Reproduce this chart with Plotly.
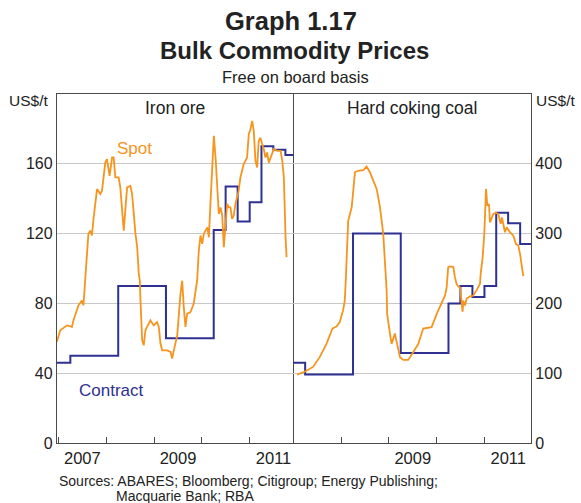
import plotly.graph_objects as go
from plotly.subplots import make_subplots

# ---------------- data ----------------
iron_spot_dates = [
    "2006-12-19", "2007-01-14", "2007-03-06", "2007-04-13", "2007-04-25", "2007-06-02",
    "2007-06-28", "2007-07-10", "2007-07-23", "2007-07-31", "2007-08-17", "2007-08-31",
    "2007-09-13", "2007-09-25", "2007-10-22", "2007-11-16", "2007-11-29", "2007-12-24",
    "2008-01-06", "2008-01-26", "2008-02-14", "2008-02-26", "2008-03-10", "2008-04-04",
    "2008-04-17", "2008-05-13", "2008-05-26", "2008-06-08", "2008-07-03", "2008-07-16",
    "2008-08-11", "2008-08-24", "2008-09-05", "2008-09-13", "2008-09-18", "2008-10-01",
    "2008-10-13", "2008-10-26", "2008-11-20", "2008-12-03", "2008-12-28", "2009-01-23",
    "2009-02-05", "2009-02-18", "2009-03-03", "2009-04-10", "2009-05-06", "2009-05-18",
    "2009-05-31", "2009-06-26", "2009-07-21", "2009-08-03", "2009-08-15", "2009-08-28",
    "2009-09-10", "2009-10-05", "2009-10-30", "2009-11-12", "2009-11-25", "2009-12-08",
    "2009-12-21", "2010-01-03", "2010-01-15", "2010-02-11", "2010-02-23", "2010-03-08",
    "2010-03-21", "2010-04-02", "2010-04-15", "2010-04-28", "2010-05-10", "2010-05-23",
    "2010-06-05", "2010-06-17", "2010-06-30", "2010-07-13", "2010-07-25", "2010-08-07",
    "2010-08-19", "2010-09-01", "2010-09-14", "2010-09-27", "2010-10-09", "2010-10-22",
    "2010-11-04", "2010-11-16", "2010-11-29", "2010-12-12", "2010-12-25", "2011-01-07",
    "2011-01-20", "2011-02-01", "2011-02-14", "2011-02-27", "2011-03-11", "2011-03-24",
    "2011-04-06", "2011-04-19", "2011-05-01", "2011-05-14", "2011-05-27", "2011-06-09",
    "2011-06-22", "2011-07-04", "2011-07-30", "2011-08-25", "2011-09-07", "2011-09-19",
    "2011-10-02", "2011-10-10",
]
iron_spot_vals = [
    58, 64.6, 67.4, 66.5, 70.3, 78.9,
    81.7, 78.9, 93, 103.6, 119.8, 121.7,
    118.9, 128.4, 145.5, 142.7, 144.6, 160.7,
    162.7, 153.1, 163.6, 163.6, 152.2, 152.2,
    146.5, 121.7, 133.1, 146.5, 147.4, 142.7,
    119.8, 112.2, 97, 93, 82, 58.9,
    56, 64.6, 68.4, 70.3, 67.4, 69.3,
    66.5, 57, 53.1, 53.1, 52.2, 48.4,
    53.1, 61.7, 85.5, 93, 77.9, 66.5,
    74.1, 75, 79.8, 87.4, 93, 110.3,
    118.9, 114.1, 119.8, 123.6, 117.9, 138.9,
    157.9, 176, 163.6, 144.6, 131.2, 135,
    130.3, 112.2, 125.5, 137, 135, 135,
    128.4, 130.3, 137, 140.7, 144.6, 152.2,
    157, 159.8, 161.7, 163.6, 177, 179.8,
    184.6, 178.9, 161.7, 157.9, 173.1, 175,
    171.3, 168.4, 163.6, 166.5, 160.7, 163.6,
    166.5, 168.4, 167.4, 167.4, 161.7, 152.2,
    117.9, 106.5,
]

iron_contract_dates = ["2006-12-20", "2007-04-01", "2008-04-01", "2009-04-01", "2010-04-01",
                       "2010-07-01", "2010-10-01", "2011-01-01", "2011-04-01", "2011-07-01",
                       "2011-10-01", "2011-11-28"]
iron_contract_vals = [46, 50, 90, 60, 122, 147, 127, 138, 170, 168, 165, 165]

coal_spot_dates = [
    "2007-01-29", "2007-03-28", "2007-05-31", "2007-07-21", "2007-09-11", "2007-10-27",
    "2007-11-26", "2007-12-21", "2008-01-16", "2008-01-29", "2008-02-06", "2008-02-24",
    "2008-03-22", "2008-04-16", "2008-05-11", "2008-06-19", "2008-07-14", "2008-08-08",
    "2008-09-03", "2008-09-29", "2008-10-24", "2008-11-18", "2008-12-14", "2008-12-18",
    "2009-01-08", "2009-01-21", "2009-02-15", "2009-02-28", "2009-03-26", "2009-04-20",
    "2009-05-28", "2009-07-05", "2009-08-13", "2009-09-20", "2009-11-23", "2010-01-01",
    "2010-02-08", "2010-03-05", "2010-03-18", "2010-03-23", "2010-03-30", "2010-04-12",
    "2010-05-08", "2010-05-20", "2010-06-02", "2010-06-15", "2010-06-28", "2010-07-18",
    "2010-07-23", "2010-08-05", "2010-08-18", "2010-09-12", "2010-10-07", "2010-11-02",
    "2010-11-28", "2010-12-03", "2010-12-18", "2010-12-31", "2011-01-13", "2011-01-23",
    "2011-02-05", "2011-02-12", "2011-02-25", "2011-03-09", "2011-03-30", "2011-04-17",
    "2011-05-05", "2011-05-15", "2011-06-07", "2011-06-20", "2011-07-15", "2011-08-10",
    "2011-08-30", "2011-09-17", "2011-09-30", "2011-10-13", "2011-10-25",
]
coal_spot_vals = [
    98, 102, 109, 123, 142, 164,
    167, 173, 190, 204, 235, 318,
    338, 388, 390, 391, 396, 388,
    376, 364, 338, 300, 219, 185,
    157, 142, 157, 145, 123, 119,
    119, 130, 142, 164, 166, 185,
    200, 211, 223, 233, 252, 253,
    252, 238, 228, 224, 223, 188,
    204, 197, 207, 210, 211, 219,
    228, 242, 266, 300, 364, 340,
    342, 316, 323, 328, 330, 328,
    314, 323, 302, 309, 302, 297,
    285, 283, 271, 252, 239,
]

coal_contract_dates = ["2006-12-29", "2007-04-01", "2008-04-01", "2009-04-01", "2010-04-01",
                       "2010-07-01", "2010-10-01", "2011-01-01", "2011-04-01", "2011-07-01",
                       "2011-10-01", "2011-12-23"]
coal_contract_vals = [115, 98, 300, 129, 200, 225, 209, 225, 330, 315, 285, 285]

left_ticks = [0, 40, 80, 120, 160]
right_ticks = [0, 100, 200, 300, 400]
left_year_labels = ["2007", "2009", "2011"]
right_year_labels = ["2009", "2011"]

# ---------------- styles ----------------
ORANGE = "#F7941D"
BLUE = "#2E3192"
FRAME = "#4a4a4a"
GRID = "#c8c8c8"
TXT = "#222222"
FONT = "Arial, Liberation Sans, sans-serif"

fig = make_subplots(rows=1, cols=2, horizontal_spacing=0)

fig.add_trace(go.Scatter(x=iron_contract_dates, y=iron_contract_vals, mode="lines",
                         line=dict(color=BLUE, width=2, shape="hv"), showlegend=False),
              row=1, col=1)
fig.add_trace(go.Scatter(x=iron_spot_dates, y=iron_spot_vals, mode="lines",
                         line=dict(color=ORANGE, width=1.8), showlegend=False),
              row=1, col=1)
fig.add_trace(go.Scatter(x=coal_contract_dates, y=coal_contract_vals, mode="lines",
                         line=dict(color=BLUE, width=2, shape="hv"), showlegend=False),
              row=1, col=2)
fig.add_trace(go.Scatter(x=coal_spot_dates, y=coal_spot_vals, mode="lines",
                         line=dict(color=ORANGE, width=1.8), showlegend=False),
              row=1, col=2)

split = (293 - 57) / 474.0

xcommon = dict(type="date", ticks="", showgrid=False, showline=True, linecolor=FRAME,
               linewidth=1.3, tickfont=dict(size=16.5, color=TXT, family=FONT),
               minor=dict(dtick="M12", tick0="2007-01-01", ticks="inside", ticklen=6,
                          tickcolor=FRAME, tickwidth=1, showgrid=False),
               zeroline=False, automargin=False)

fig.update_layout(
    xaxis=dict(xcommon, domain=[0, split], range=["2006-12-20", "2011-11-28"],
               tickmode="array", tickvals=[y + "-07-02" for y in left_year_labels],
               ticktext=left_year_labels, mirror=True),
    xaxis2=dict(xcommon, domain=[split, 1], range=["2006-12-29", "2011-12-23"],
                tickmode="array", tickvals=[y + "-07-02" for y in right_year_labels],
                ticktext=right_year_labels, mirror=True),
    yaxis=dict(range=[0, 200], tickmode="array", tickvals=left_ticks, showgrid=True,
               gridcolor=GRID, gridwidth=1, showline=True, mirror=True, linecolor=FRAME,
               linewidth=1.3, ticks="", zeroline=False, automargin=False,
               tickfont=dict(size=16, color=TXT, family=FONT)),
    yaxis2=dict(range=[0, 500], tickmode="array", tickvals=right_ticks, showgrid=True,
                gridcolor=GRID, gridwidth=1, showline=True, mirror=False, side="right",
                linecolor=FRAME, linewidth=1.3, ticks="", zeroline=False, automargin=False,
                tickfont=dict(size=16, color=TXT, family=FONT)),
    width=581, height=503,
    margin=dict(l=57, r=50, t=94, b=60, autoexpand=False),
    paper_bgcolor="white", plot_bgcolor="white",
    font=dict(family=FONT, color=TXT),
)

ann = []
def A(text, x, y, size, color=TXT, xanchor="center", yanchor="middle", bold=False,
      xref="paper", yref="paper"):
    ann.append(dict(text=("<b>%s</b>" % text) if bold else text, x=x, y=y, xref=xref,
                    yref=yref, xanchor=xanchor, yanchor=yanchor, showarrow=False,
                    font=dict(size=size, color=color, family=FONT)))

ph = 349.0
def py(p):
    return (443.3 - p) / ph

A("Graph 1.17", (291 - 57) / 474.0, py(21), 25.5, bold=True)
A("Bulk Commodity Prices", (294 - 57) / 474.0, py(51), 24, bold=True)
A("Free on board basis", (295 - 57) / 474.0, py(77), 16.5)
A("US$/t", -0.014, py(101), 15.5, xanchor="right")
A("US$/t", 1.006, py(101), 15.5, xanchor="left")
A("Iron ore", 0.5, py(108), 17.5, xref="x domain", yref="paper")
A("Hard coking coal", 0.5, py(108), 17.5, xref="x2 domain", yref="paper")
A("Spot", "2008-08-03", 168.6, 17, color=ORANGE, xref="x", yref="y")
A("Contract", "2008-02-08", 30.3, 17, color=BLUE, xref="x", yref="y")
A("Sources: ABARES; Bloomberg; Citigroup; Energy Publishing;", 0.0, py(481), 14,
  xanchor="left")
A("Macquarie Bank; RBA", (114 - 57) / 474.0, py(496), 14, xanchor="left")

fig.update_layout(annotations=ann)

fig.write_html("out.html", config={"displayModeBar": False},
               post_script="document.body.style.margin='0';")
